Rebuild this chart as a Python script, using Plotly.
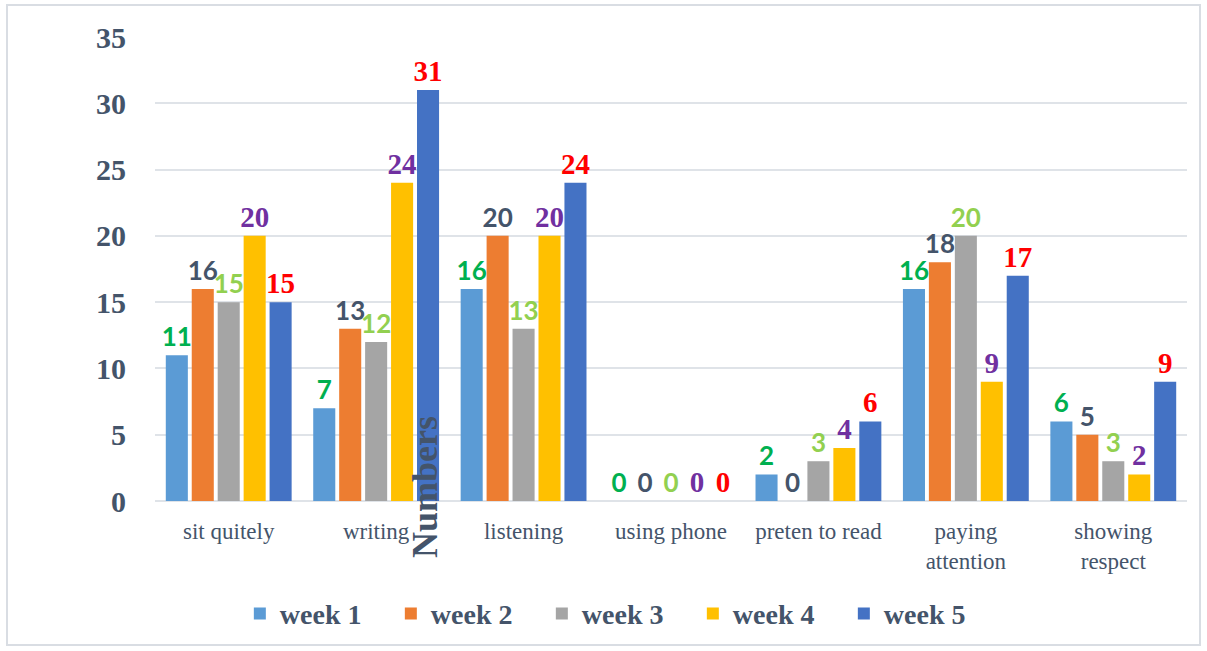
import plotly.graph_objects as go

categories = ["sit quitely", "writing", "listening", "using phone", "preten to read",
              "paying<br>attention", "showing<br>respect"]
series_names = ["week 1", "week 2", "week 3", "week 4", "week 5"]
week1 = [11, 7, 16, 0, 2, 16, 6]
week2 = [16, 13, 20, 0, 0, 18, 5]
week3 = [15, 12, 13, 0, 3, 20, 3]
week4 = [20, 24, 20, 0, 4, 9, 2]
week5 = [15, 31, 24, 0, 6, 17, 9]
y_ticks = [0, 5, 10, 15, 20, 25, 30, 35]

values = [week1, week2, week3, week4, week5]
bar_colors = ["#5b9bd5", "#ed7d31", "#a5a5a5", "#ffc000", "#4472c4"]
label_colors = ["#00b050", "#44546a", "#92d050", "#7030a0", "#ff0000"]
label_fonts = ["Lato", "Lato", "Lato", "Liberation Serif", "Liberation Serif"]
label_sizes = [26, 26, 26, 29, 29]

SLATE = "#44546a"
SERIF = "Liberation Serif"

fig = go.Figure()
for name, vals, bc, lc, lf, ls in zip(series_names, values, bar_colors, label_colors,
                                      label_fonts, label_sizes):
    fig.add_trace(go.Bar(
        x=categories, y=vals, name=name,
        marker=dict(color=bc, line=dict(width=0)),
        text=[str(v) for v in vals], textposition="outside",
        textfont=dict(family=lf, size=ls, color=lc, weight="bold"),
        constraintext="none",
        cliponaxis=False,
    ))

fig.update_layout(
    width=1207, height=651,
    margin=dict(l=155, r=20, t=37, b=150),
    paper_bgcolor="white", plot_bgcolor="white",
    barmode="group", bargap=0.12, bargroupgap=0.15,
    font=dict(family=SERIF, color=SLATE),
    xaxis=dict(
        tickfont=dict(family=SERIF, size=23, color=SLATE),
        showgrid=False, showline=False, ticks="", ticklabelstandoff=14,
    ),
    yaxis=dict(
        range=[0, 35], tickvals=y_ticks,
        tickfont=dict(family=SERIF, size=30, color=SLATE, weight="bold"),
        showgrid=True, gridcolor="#dfe3e8", gridwidth=2,
        zeroline=True, zerolinecolor="#dfe3e8", zerolinewidth=2,
        showline=False, ticks="", ticklabelstandoff=28,
    ),
    legend=dict(
        orientation="h", x=0.448, xanchor="center", y=-0.243, yanchor="middle",
        font=dict(family=SERIF, size=28, color=SLATE, weight="bold"),
        entrywidth=106, entrywidthmode="pixels", itemsizing="constant",
        traceorder="normal",
    ),
    showlegend=True,
)

fig.add_annotation(
    text="<b>Numbers</b>", textangle=-90,
    xref="paper", yref="paper",
    x=(425 - 155) / 1032, y=(501 - 487) / 464,
    showarrow=False, xanchor="center", yanchor="middle",
    font=dict(family=SERIF, size=36, color=SLATE),
)

fig.add_shape(
    type="rect", xref="paper", yref="paper",
    x0=(7 - 155) / 1032, x1=(1200 - 155) / 1032,
    y0=(501 - 645) / 464, y1=1 + 32 / 464,
    line=dict(color="#d9dde3", width=2), fillcolor="rgba(0,0,0,0)", layer="below",
)

fig.write_html("out.html", config={"displayModeBar": False},
               post_script="document.body.style.margin='0';document.body.style.overflow='hidden';")
